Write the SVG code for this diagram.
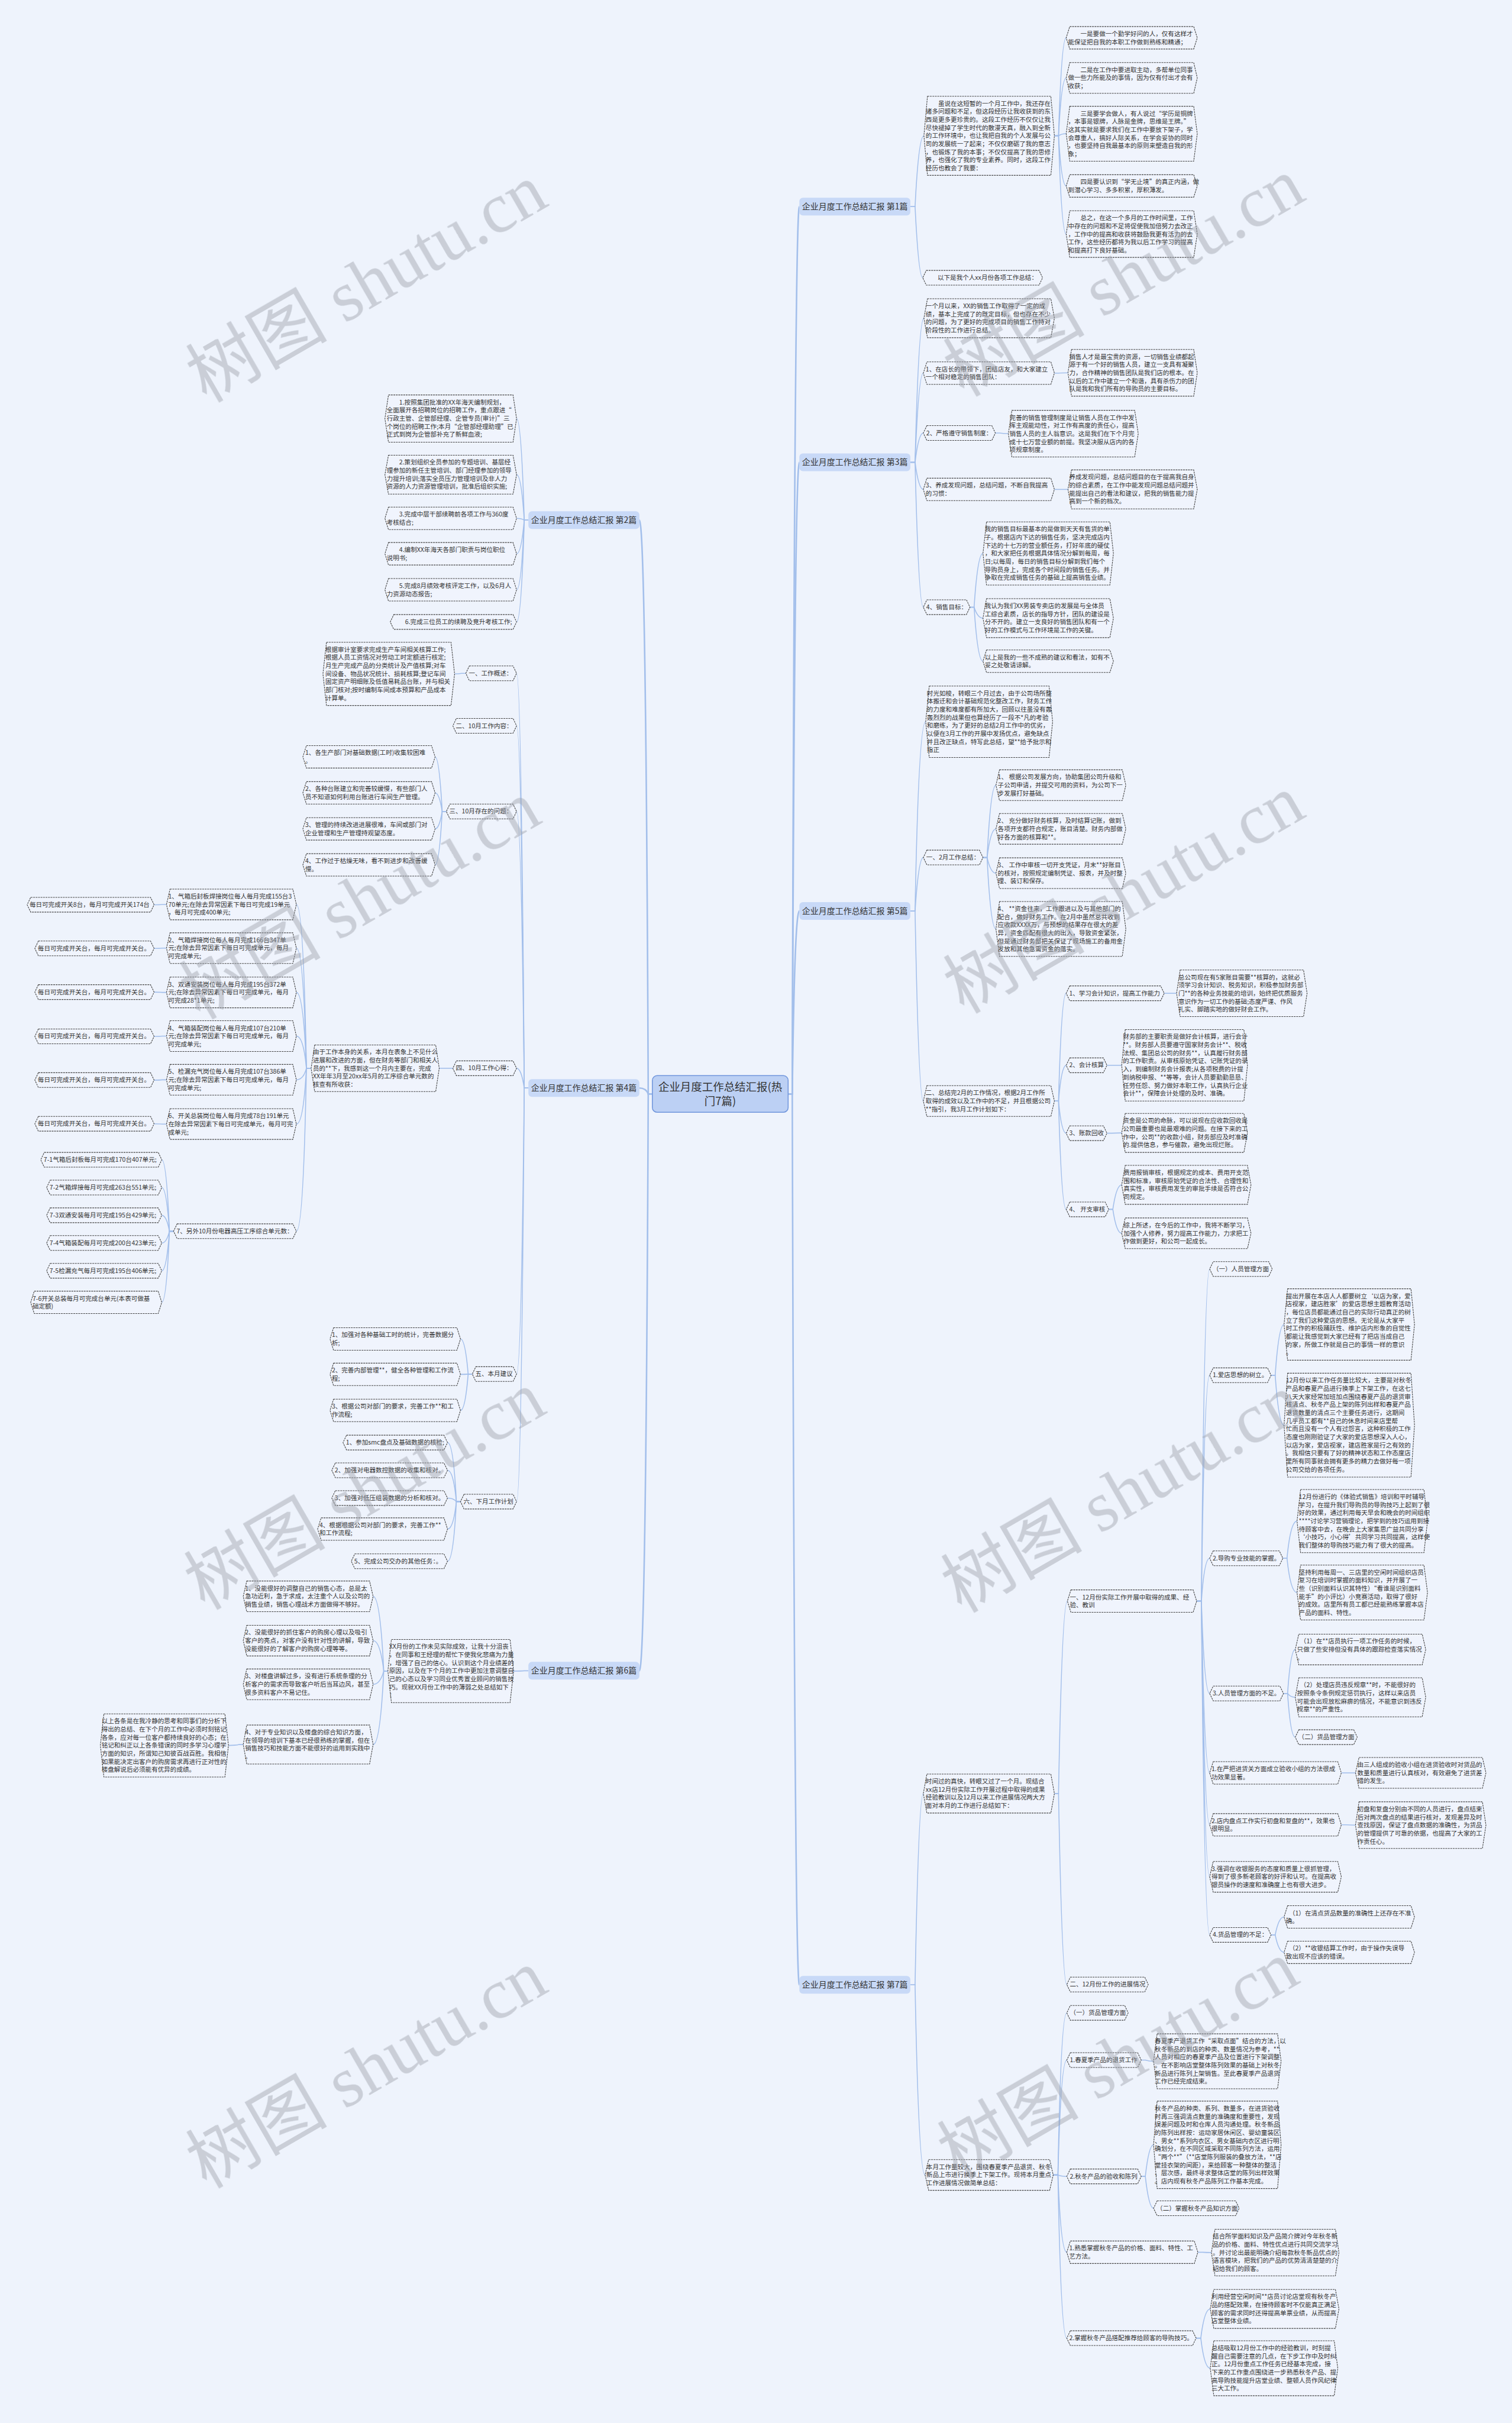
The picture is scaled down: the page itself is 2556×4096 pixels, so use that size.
<svg xmlns="http://www.w3.org/2000/svg" width="2556" height="4096" viewBox="0 0 2556 4096">
<style>
.b{fill:#f0f4fd;stroke:#444;stroke-width:1.1;stroke-dasharray:3 1.2}
.t{font-family:"Noto Sans CJK SC","Microsoft YaHei",sans-serif;font-size:10.6px;fill:#333}
.n{fill:#c8d9f7}
.nt{font-family:"Noto Sans CJK SC",sans-serif;font-size:14px;fill:#333;text-anchor:middle}
.c{fill:none;stroke:#a3bfeb;stroke-width:1.6}
.m{stroke-width:2.6}
.w{font-family:"Liberation Serif","Noto Sans CJK SC",serif;font-size:120px;fill:#9ca1ab;opacity:.45}
</style>
<rect width="2556" height="4096" fill="#eef3fc"/>
<g transform="scale(0.998)">
<g id="connectors" class="c">
<path class="m" d="M1335 1853H1342Q1346 350 1354 350"/>
<path class="m" d="M1335 1853H1342Q1346 783 1354 783"/>
<path class="m" d="M1335 1853H1342Q1346 1543 1354 1543"/>
<path class="m" d="M1335 1853H1342Q1346 3362 1354 3362"/>
<path class="m" d="M1105 1853H1098Q1094 881 1083 881"/>
<path class="m" d="M1105 1853H1098Q1094 1843 1083 1843"/>
<path class="m" d="M1105 1853H1098Q1094 2830 1083 2830"/>
<path d="M1542 350H1550Q1556 230 1565 230"/>
<path d="M1542 350H1550Q1556 470.5 1563 470.5"/>
<path d="M1786 230H1793Q1798 64 1806 64"/>
<path d="M1786 230H1793Q1798 132 1806 132"/>
<path d="M1786 230H1793Q1798 226.5 1806 226.5"/>
<path d="M1786 230H1793Q1798 315 1806 315"/>
<path d="M1786 230H1793Q1798 396.5 1806 396.5"/>
<path d="M1542 783H1550Q1556 539 1565 539"/>
<path d="M1542 783H1550Q1556 632 1564 632"/>
<path d="M1542 783H1550Q1556 733.5 1564 733.5"/>
<path d="M1542 783H1550Q1556 829 1564 829"/>
<path d="M1542 783H1550Q1556 1028.5 1564 1028.5"/>
<path d="M1786 632H1793Q1799 631.5 1809 631.5"/>
<path d="M1686 733.5H1693Q1699 734.5 1708 734.5"/>
<path d="M1786 829H1793Q1799 829 1809 829"/>
<path d="M1643 1028.5H1650Q1656 937.5 1665 937.5"/>
<path d="M1643 1028.5H1650Q1656 1047 1665 1047"/>
<path d="M1643 1028.5H1650Q1656 1120 1665 1120"/>
<path d="M1542 1543H1550Q1556 1222.5 1568 1222.5"/>
<path d="M1542 1543H1550Q1556 1452.5 1564 1452.5"/>
<path d="M1542 1543H1550Q1556 1865 1564 1865"/>
<path d="M1665 1452.5H1672Q1678 1330 1687 1330"/>
<path d="M1665 1452.5H1672Q1678 1404 1687 1404"/>
<path d="M1665 1452.5H1672Q1678 1479 1687 1479"/>
<path d="M1665 1452.5H1672Q1678 1573.5 1687 1573.5"/>
<path d="M1786 1865H1793Q1798 1682.5 1806 1682.5"/>
<path d="M1786 1865H1793Q1798 1804.5 1806 1804.5"/>
<path d="M1786 1865H1793Q1798 1919.5 1806 1919.5"/>
<path d="M1786 1865H1793Q1798 2048.5 1806 2048.5"/>
<path d="M1972 1682.5H1979Q1985 1682.5 1993 1682.5"/>
<path d="M1875 1804.5H1883Q1890 1804.5 1900 1804.5"/>
<path d="M1875 1919.5H1883Q1890 1919 1900 1919"/>
<path d="M1878 2048.5H1885Q1891 2007 1900 2007"/>
<path d="M1878 2048.5H1885Q1891 2089 1900 2089"/>
<path d="M1542 3362H1550Q1556 3038 1564 3038"/>
<path d="M1542 3362H1550Q1556 3684 1567 3684"/>
<path d="M1786 3038H1793Q1799 2712 1808 2712"/>
<path d="M1786 3038H1793Q1799 3361.5 1807 3361.5"/>
<path d="M2027 2712H2035Q2040 2149.5 2049 2149.5"/>
<path d="M2027 2712H2035Q2040 2329.5 2049 2329.5"/>
<path d="M2027 2712H2035Q2040 2639.5 2049 2639.5"/>
<path d="M2027 2712H2035Q2040 2868.5 2049 2868.5"/>
<path d="M2027 2712H2035Q2040 3003 2049 3003"/>
<path d="M2027 2712H2035Q2040 3091 2049 3091"/>
<path d="M2027 2712H2035Q2040 3179 2049 3179"/>
<path d="M2027 2712H2035Q2040 3277.5 2049 3277.5"/>
<path d="M2153 2329.5H2160Q2166 2243.5 2175 2243.5"/>
<path d="M2153 2329.5H2160Q2166 2414 2175 2414"/>
<path d="M2173 2639.5H2180Q2186 2576.5 2197 2576.5"/>
<path d="M2173 2639.5H2180Q2186 2697.5 2197 2697.5"/>
<path d="M2174 2868.5H2181Q2186 2794 2194 2794"/>
<path d="M2174 2868.5H2181Q2186 2875 2194 2875"/>
<path d="M2174 2868.5H2181Q2186 2942.5 2194 2942.5"/>
<path d="M2272 3003H2280Q2286 3003 2296 3003"/>
<path d="M2272 3091H2280Q2286 3091.5 2296 3091.5"/>
<path d="M2153 3277.5H2160Q2166 3247 2175 3247"/>
<path d="M2153 3277.5H2160Q2166 3307 2175 3307"/>
<path d="M1784 3684H1792Q1797 3409.5 1807 3409.5"/>
<path d="M1784 3684H1792Q1797 3489.5 1807 3489.5"/>
<path d="M1784 3684H1792Q1797 3686.5 1807 3686.5"/>
<path d="M1784 3684H1792Q1797 3815 1807 3815"/>
<path d="M1784 3684H1792Q1797 3960.5 1807 3960.5"/>
<path d="M1933 3489.5H1940Q1946 3491.5 1954 3491.5"/>
<path d="M1933 3686.5H1940Q1946 3633 1954 3633"/>
<path d="M1933 3686.5H1940Q1946 3740.5 1954 3740.5"/>
<path d="M2029 3815H2037Q2043 3815.5 2052 3815.5"/>
<path d="M2026 3960.5H2034Q2040 3911 2050 3911"/>
<path d="M2026 3960.5H2034Q2040 4011.5 2050 4011.5"/>
<path d="M895 881H888Q883 709 875 709"/>
<path d="M895 881H888Q883 804 875 804"/>
<path d="M895 881H888Q883 878 875 878"/>
<path d="M895 881H888Q883 938 875 938"/>
<path d="M895 881H888Q883 999 875 999"/>
<path d="M895 881H888Q883 1053.5 875 1053.5"/>
<path d="M895 1843H888Q883 1140.5 875 1140.5"/>
<path d="M895 1843H888Q883 1229.5 875 1229.5"/>
<path d="M895 1843H888Q883 1374.5 875 1374.5"/>
<path d="M895 1843H888Q883 1809.5 875 1809.5"/>
<path d="M895 1843H888Q883 2327.5 875 2327.5"/>
<path d="M895 1843H888Q883 2543.5 875 2543.5"/>
<path d="M789 1140.5H782Q777 1141.5 770 1141.5"/>
<path d="M756 1374.5H749Q744 1282 737 1282"/>
<path d="M756 1374.5H749Q744 1343 737 1343"/>
<path d="M756 1374.5H749Q744 1404 737 1404"/>
<path d="M756 1374.5H749Q744 1465 737 1465"/>
<path d="M767 1809.5H760Q754 1809.5 744 1809.5"/>
<path d="M527 1809.5H519Q514 1532 502 1532"/>
<path d="M527 1809.5H519Q514 1606 502 1606"/>
<path d="M527 1809.5H519Q514 1681 502 1681"/>
<path d="M527 1809.5H519Q514 1755 502 1755"/>
<path d="M527 1809.5H519Q514 1829 502 1829"/>
<path d="M527 1809.5H519Q514 1904 502 1904"/>
<path d="M527 1809.5H519Q514 2085.5 502 2085.5"/>
<path d="M282 1532H275Q270 1532.5 261 1532.5"/>
<path d="M282 1606H275Q270 1606.5 261 1606.5"/>
<path d="M282 1681H275Q270 1680.5 261 1680.5"/>
<path d="M282 1755H275Q270 1755.5 261 1755.5"/>
<path d="M282 1829H275Q270 1829.5 261 1829.5"/>
<path d="M282 1904H275Q270 1903.5 261 1903.5"/>
<path d="M294 2085.5H287Q282 1964.5 274 1964.5"/>
<path d="M294 2085.5H287Q282 2011.5 274 2011.5"/>
<path d="M294 2085.5H287Q282 2058.5 274 2058.5"/>
<path d="M294 2085.5H287Q282 2105.5 274 2105.5"/>
<path d="M294 2085.5H287Q282 2152.5 274 2152.5"/>
<path d="M294 2085.5H287Q282 2206 274 2206"/>
<path d="M800 2327.5H793Q788 2268 780 2268"/>
<path d="M800 2327.5H793Q788 2328 780 2328"/>
<path d="M800 2327.5H793Q788 2389 780 2389"/>
<path d="M780 2543.5H773Q768 2443.5 758 2443.5"/>
<path d="M780 2543.5H773Q768 2490.5 758 2490.5"/>
<path d="M780 2543.5H773Q768 2537.5 758 2537.5"/>
<path d="M780 2543.5H773Q768 2590 758 2590"/>
<path d="M780 2543.5H773Q768 2644.5 758 2644.5"/>
<path d="M895 2830H888Q883 2830.5 870 2830.5"/>
<path d="M657 2830.5H650Q644 2704 632 2704"/>
<path d="M657 2830.5H650Q644 2779 632 2779"/>
<path d="M657 2830.5H650Q644 2853 632 2853"/>
<path d="M657 2830.5H650Q644 2955 632 2955"/>
<path d="M412 2955H405Q400 2956.5 387 2956.5"/>
</g>

<g id="center"><rect x="1105" y="1822" width="230" height="62" rx="8" fill="#bcd0f4" stroke="#6f95dc" stroke-width="1.5"/><text class="nt" style="font-size:18.5px" x="1220" y="1848">企业月度工作总结汇报(热<tspan x="1220" dy="24">门7篇)</tspan></text></g>

<g id="n1"><rect class="n" x="1354" y="335" width="188" height="30" rx="6"/><text class="nt" x="1448" y="355">企业月度工作总结汇报 第1篇</text></g>
<g id="n3"><rect class="n" x="1354" y="768" width="188" height="30" rx="6"/><text class="nt" x="1448" y="788">企业月度工作总结汇报 第3篇</text></g>
<g id="n5"><rect class="n" x="1354" y="1528" width="188" height="30" rx="6"/><text class="nt" x="1448" y="1548">企业月度工作总结汇报 第5篇</text></g>
<g id="n7"><rect class="n" x="1354" y="3347" width="188" height="30" rx="6"/><text class="nt" x="1448" y="3367">企业月度工作总结汇报 第7篇</text></g>
<g id="n2"><rect class="n" x="895" y="866" width="188" height="30" rx="6"/><text class="nt" x="989" y="886">企业月度工作总结汇报 第2篇</text></g>
<g id="n4"><rect class="n" x="895" y="1828" width="188" height="30" rx="6"/><text class="nt" x="989" y="1848">企业月度工作总结汇报 第4篇</text></g>
<g id="n6"><rect class="n" x="895" y="2815" width="188" height="30" rx="6"/><text class="nt" x="989" y="2835">企业月度工作总结汇报 第6篇</text></g>

<g id="b1"><polygon class="b" points="1571,163 1780,163 1786,230 1780,297 1571,297 1565,230"/><text class="t" x="1568" y="179">　　虽说在这短暂的一个月工作中，我还存在<tspan x="1568" dy="13.7">诸多问题和不足，但这段经历让我收获到的东</tspan><tspan x="1568" dy="13.7">西是更多更珍贵的。这段工作经历不仅仅让我</tspan><tspan x="1568" dy="13.7">尽快褪掉了学生时代的散漫天真，融入到全新</tspan><tspan x="1568" dy="13.7">的工作环境中，也让我把自我的个人发展与公</tspan><tspan x="1568" dy="13.7">司的发展统一了起来；不仅仅磨砺了我的意志</tspan><tspan x="1568" dy="13.7">，也锻炼了我的本事；不仅仅提高了我的思修</tspan><tspan x="1568" dy="13.7">养，也强化了我的专业素养。同时，这段工作</tspan><tspan x="1568" dy="13.7">经历也教会了我要：</tspan></text></g>
<g id="b2"><polygon class="b" points="1569,458 1760,458 1766,470.5 1760,483 1569,483 1563,470.5"/><text class="t" x="1567" y="474">　　以下是我个人xx月份各项工作总结：</text></g>
<g id="b3"><polygon class="b" points="1812,45 2022,45 2028,64 2022,83 1812,83 1806,64"/><text class="t" x="1809" y="61">　　一是要做一个勤学好问的人，仅有这样才<tspan x="1809" dy="13.7">能保证把自我的本职工作做到熟练和精通；</tspan></text></g>
<g id="b4"><polygon class="b" points="1812,106 2022,106 2028,132 2022,158 1812,158 1806,132"/><text class="t" x="1809" y="122">　　二是在工作中要进取主动，多帮单位同事<tspan x="1809" dy="13.7">做一些力所能及的事情，因为仅有付出才会有</tspan><tspan x="1809" dy="13.7">收获；</tspan></text></g>
<g id="b5"><polygon class="b" points="1812,180 2022,180 2028,226.5 2022,273 1812,273 1806,226.5"/><text class="t" x="1809" y="196">　　三是要学会做人，有人说过“学历是铜牌<tspan x="1809" dy="13.7">，本事是银牌，人脉是金牌，思维是王牌。”</tspan><tspan x="1809" dy="13.7">这其实就是要求我们在工作中要放下架子，学</tspan><tspan x="1809" dy="13.7">会尊重人，搞好人际关系，在学会妥协的同时</tspan><tspan x="1809" dy="13.7">，也要坚持自我最基本的原则来塑造自我的形</tspan><tspan x="1809" dy="13.7">象；</tspan></text></g>
<g id="b6"><polygon class="b" points="1812,296 2022,296 2028,315 2022,334 1812,334 1806,315"/><text class="t" x="1809" y="312">　　四是要认识到“学无止境”的真正内涵，做<tspan x="1809" dy="13.7">到潜心学习、多多积累，厚积薄发。</tspan></text></g>
<g id="b7"><polygon class="b" points="1812,357 2022,357 2028,396.5 2022,436 1812,436 1806,396.5"/><text class="t" x="1809" y="373">　　总之，在这一个多月的工作时间里，工作<tspan x="1809" dy="13.7">中存在的问题和不足将促使我加倍努力去改正</tspan><tspan x="1809" dy="13.7">，工作中的提高和收获将鼓励我更有活力的去</tspan><tspan x="1809" dy="13.7">工作，这些经历都将为我以后工作学习的提高</tspan><tspan x="1809" dy="13.7">和提高打下良好基础。</tspan></text></g>

<g id="b8"><polygon class="b" points="1571,506 1780,506 1786,539 1780,572 1571,572 1565,539"/><text class="t" x="1568" y="522">一个月以来，XX的销售工作取得了一定的成<tspan x="1568" dy="13.7">绩，基本上完成了的既定目标，但也存在不少</tspan><tspan x="1568" dy="13.7">的问题，为了更好的完成项目的销售工作特对</tspan><tspan x="1568" dy="13.7">阶段性的工作进行总结。</tspan></text></g>
<g id="b9"><polygon class="b" points="1570,613 1780,613 1786,632 1780,651 1570,651 1564,632"/><text class="t" x="1568" y="629">1、在店长的带领下，团结店友，和大家建立<tspan x="1568" dy="13.7">一个相对稳定的销售团队：</tspan></text></g>
<g id="b10"><polygon class="b" points="1815,592 2022,592 2028,631.5 2022,671 1815,671 1809,631.5"/><text class="t" x="1811" y="608">销售人才是最宝贵的资源，一切销售业绩都起<tspan x="1811" dy="13.7">源于有一个好的销售人员，建立一支具有凝聚</tspan><tspan x="1811" dy="13.7">力，合作精神的销售团队是我们店的根本。在</tspan><tspan x="1811" dy="13.7">以后的工作中建立一个和谐，具有杀伤力的团</tspan><tspan x="1811" dy="13.7">队是我和我们所有的导购员的主要目标。</tspan></text></g>
<g id="b11"><polygon class="b" points="1570,721 1680,721 1686,733.5 1680,746 1570,746 1564,733.5"/><text class="t" x="1569" y="737">2、严格遵守销售制度：</text></g>
<g id="b12"><polygon class="b" points="1714,695 1922,695 1928,734.5 1922,774 1714,774 1708,734.5"/><text class="t" x="1710" y="711">完善的销售管理制度是让销售人员在工作中发<tspan x="1710" dy="13.7">挥主观能动性，对工作有高度的责任心，提高</tspan><tspan x="1710" dy="13.7">销售人员的主人翁意识。这是我们在下个月完</tspan><tspan x="1710" dy="13.7">成十七万营业额的前提。我坚决服从店内的各</tspan><tspan x="1710" dy="13.7">项规章制度。</tspan></text></g>
<g id="b13"><polygon class="b" points="1570,810 1780,810 1786,829 1780,848 1570,848 1564,829"/><text class="t" x="1568" y="826">3、养成发现问题，总结问题，不断自我提高<tspan x="1568" dy="13.7">的习惯：</tspan></text></g>
<g id="b14"><polygon class="b" points="1815,796 2022,796 2028,829 2022,862 1815,862 1809,829"/><text class="t" x="1811" y="812">养成发现问题，总结问题目的在于提高我自身<tspan x="1811" dy="13.7">的综合素质，在工作中能发现问题总结问题并</tspan><tspan x="1811" dy="13.7">能提出自己的看法和建议，把我的销售能力提</tspan><tspan x="1811" dy="13.7">高到一个新的档次。</tspan></text></g>
<g id="b15"><polygon class="b" points="1570,1016 1637,1016 1643,1028.5 1637,1041 1570,1041 1564,1028.5"/><text class="t" x="1569" y="1032">4、销售目标：</text></g>
<g id="b16"><polygon class="b" points="1671,884 1880,884 1886,937.5 1880,991 1671,991 1665,937.5"/><text class="t" x="1668" y="900">我的销售目标最基本的是做到天天有售货的单<tspan x="1668" dy="13.7">子。根据店内下达的销售任务，坚决完成店内</tspan><tspan x="1668" dy="13.7">下达的十七万的营业额任务，打好年底的硬仗</tspan><tspan x="1668" dy="13.7">，和大家把任务根据具体情况分解到每周，每</tspan><tspan x="1668" dy="13.7">日;以每周，每日的销售目标分解到我们每个</tspan><tspan x="1668" dy="13.7">导购员身上，完成各个时间段的销售任务。并</tspan><tspan x="1668" dy="13.7">争取在完成销售任务的基础上提高销售业绩。</tspan></text></g>
<g id="b17"><polygon class="b" points="1671,1014 1880,1014 1886,1047 1880,1080 1671,1080 1665,1047"/><text class="t" x="1668" y="1030">我认为我们XX男装专卖店的发展是与全体员<tspan x="1668" dy="13.7">工综合素质，店长的指导方针，团队的建设是</tspan><tspan x="1668" dy="13.7">分不开的。建立一支良好的销售团队和有一个</tspan><tspan x="1668" dy="13.7">好的工作模式与工作环境是工作的关键。</tspan></text></g>
<g id="b18"><polygon class="b" points="1671,1101 1880,1101 1886,1120 1880,1139 1671,1139 1665,1120"/><text class="t" x="1668" y="1117">以上是我的一些不成熟的建议和看法，如有不<tspan x="1668" dy="13.7">妥之处敬请谅解。</tspan></text></g>

<g id="b19"><polygon class="b" points="1574,1162 1777,1162 1783,1222.5 1777,1283 1574,1283 1568,1222.5"/><text class="t" x="1570" y="1178">时光如梭，转眼三个月过去，由于公司场所整<tspan x="1570" dy="13.7">体搬迁和会计基础规范化整改工作，财务工作</tspan><tspan x="1570" dy="13.7">的力度和难度都有所加大，回顾以往虽没有轰</tspan><tspan x="1570" dy="13.7">轰烈烈的战果但也算经历了一段不*凡的考验</tspan><tspan x="1570" dy="13.7">和磨练，为了更好的总结2月工作中的优劣，</tspan><tspan x="1570" dy="13.7">以便在3月工作的开展中发扬优点，避免缺点</tspan><tspan x="1570" dy="13.7">并且改正缺点，特写此总结，望**给予批示和</tspan><tspan x="1570" dy="13.7">指正</tspan></text></g>
<g id="b20"><polygon class="b" points="1570,1440 1659,1440 1665,1452.5 1659,1465 1570,1465 1564,1452.5"/><text class="t" x="1569" y="1456">一、2月工作总结：</text></g>
<g id="b21"><polygon class="b" points="1693,1304 1901,1304 1907,1330 1901,1356 1693,1356 1687,1330"/><text class="t" x="1690" y="1320">1、 根据公司发展方向，协助集团公司升级和<tspan x="1690" dy="13.7">子公司申请，并提交可用的资料，为公司下一</tspan><tspan x="1690" dy="13.7">步发展打好基础。</tspan></text></g>
<g id="b22"><polygon class="b" points="1693,1378 1901,1378 1907,1404 1901,1430 1693,1430 1687,1404"/><text class="t" x="1690" y="1394">2、 充分做好财务核算，及时结算记账，做到<tspan x="1690" dy="13.7">各项开支都符合规定，账目清楚。财务内部做</tspan><tspan x="1690" dy="13.7">好各方面的核算和**。</tspan></text></g>
<g id="b23"><polygon class="b" points="1693,1453 1901,1453 1907,1479 1901,1505 1693,1505 1687,1479"/><text class="t" x="1690" y="1469">3、 工作中审核一切开支凭证，月末**好账目<tspan x="1690" dy="13.7">的核对，按照规定编制凭证、报表，并及时整</tspan><tspan x="1690" dy="13.7">理、装订和保存。</tspan></text></g>
<g id="b24"><polygon class="b" points="1693,1527 1901,1527 1907,1573.5 1901,1620 1693,1620 1687,1573.5"/><text class="t" x="1690" y="1543">4、 **资金往来，工作跟进以及与其他部门的<tspan x="1690" dy="13.7">配合，做好财务工作。在2月中虽然总共收到</tspan><tspan x="1690" dy="13.7">应收款XXXX万，与预想的结果存在很大的差</tspan><tspan x="1690" dy="13.7">异，资金匹配有很大的出入，导致资金紧张，</tspan><tspan x="1690" dy="13.7">但是通过财务部把关保证了现场施工的备用金</tspan><tspan x="1690" dy="13.7">发放和其他急需资金的落实。</tspan></text></g>
<g id="b25"><polygon class="b" points="1570,1839 1780,1839 1786,1865 1780,1891 1570,1891 1564,1865"/><text class="t" x="1568" y="1855">二、总结完2月的工作情况，根据2月工作所<tspan x="1568" dy="13.7">取得的成效以及工作中的不足，并且根据公司</tspan><tspan x="1568" dy="13.7">**指引，我3月工作计划如下：</tspan></text></g>
<g id="b26"><polygon class="b" points="1812,1670 1966,1670 1972,1682.5 1966,1695 1812,1695 1806,1682.5"/><text class="t" x="1811" y="1686">1、学习会计知识，提高工作能力</text></g>
<g id="b27"><polygon class="b" points="1999,1643 2208,1643 2214,1682.5 2208,1722 1999,1722 1993,1682.5"/><text class="t" x="1996" y="1659">总公司现在有5家账目需要**核算的，这就必<tspan x="1996" dy="13.7">须学习会计知识、税务知识，积极参加财务部</tspan><tspan x="1996" dy="13.7">门**的各种业务技能的培训，始终把优质服务</tspan><tspan x="1996" dy="13.7">意识作为一切工作的基础;态度严谨、作风</tspan><tspan x="1996" dy="13.7">扎实、脚踏实地的做好财会工作。</tspan></text></g>
<g id="b28"><polygon class="b" points="1812,1792 1869,1792 1875,1804.5 1869,1817 1812,1817 1806,1804.5"/><text class="t" x="1811" y="1808">2、会计核算</text></g>
<g id="b29"><polygon class="b" points="1906,1744 2107,1744 2113,1804.5 2107,1865 1906,1865 1900,1804.5"/><text class="t" x="1902" y="1760">财务部的主要职责是做好会计核算，进行会计<tspan x="1902" dy="13.7">**。财务部人员要遵守国家财务会计**、税收</tspan><tspan x="1902" dy="13.7">法规、集团总公司的财务**，认真履行财务部</tspan><tspan x="1902" dy="13.7">的工作职责。从审核原始凭证、记账凭证的录</tspan><tspan x="1902" dy="13.7">入，到编制财务会计报表;从各项税费的计提</tspan><tspan x="1902" dy="13.7">到纳税申报、**等等，会计人员要勤勤恳恳、</tspan><tspan x="1902" dy="13.7">任劳任怨、努力做好本职工作，认真执行企业</tspan><tspan x="1902" dy="13.7">会计**，保障会计处理的及时、准确。</tspan></text></g>
<g id="b30"><polygon class="b" points="1812,1907 1869,1907 1875,1919.5 1869,1932 1812,1932 1806,1919.5"/><text class="t" x="1811" y="1923">3、账款回收</text></g>
<g id="b31"><polygon class="b" points="1906,1886 2107,1886 2113,1919 2107,1952 1906,1952 1900,1919"/><text class="t" x="1902" y="1902">资金是公司的命脉，可以说现在应收款回收是<tspan x="1902" dy="13.7">公司最重要也是最艰难的问题。在接下来的工</tspan><tspan x="1902" dy="13.7">作中，公司**的收款小组，财务部应及时准确</tspan><tspan x="1902" dy="13.7">的.提供信息，参与催款，避免出现烂账。</tspan></text></g>
<g id="b32"><polygon class="b" points="1812,2036 1872,2036 1878,2048.5 1872,2061 1812,2061 1806,2048.5"/><text class="t" x="1811" y="2052">4、 开支审核</text></g>
<g id="b33"><polygon class="b" points="1906,1974 2113,1974 2119,2007 2113,2040 1906,2040 1900,2007"/><text class="t" x="1903" y="1990">费用报销审核，根据规定的成本、费用开支范<tspan x="1903" dy="13.7">围和标准，审核原始凭证的合法性、合理性和</tspan><tspan x="1903" dy="13.7">真实性，审核费用发生的审批手续是否符合公</tspan><tspan x="1903" dy="13.7">司规定。</tspan></text></g>
<g id="b34"><polygon class="b" points="1906,2063 2113,2063 2119,2089 2113,2115 1906,2115 1900,2089"/><text class="t" x="1903" y="2079">综上所述，在今后的工作中，我将不断学习，<tspan x="1903" dy="13.7">加强个人修养，努力提高工作能力，力求把工</tspan><tspan x="1903" dy="13.7">作做到更好，和公司一起成长。</tspan></text></g>

<g id="b35"><polygon class="b" points="1570,3005 1780,3005 1786,3038 1780,3071 1570,3071 1564,3038"/><text class="t" x="1568" y="3021">时间过的真快，转眼又过了一个月。现结合<tspan x="1568" dy="13.7">xx店12月份实际工作开展过程中取得的成果</tspan><tspan x="1568" dy="13.7">经验教训以及12月以来工作进展情况两大方</tspan><tspan x="1568" dy="13.7">面对本月的工作进行总结如下：</tspan></text></g>
<g id="b36"><polygon class="b" points="1814,2693 2021,2693 2027,2712 2021,2731 1814,2731 1808,2712"/><text class="t" x="1812" y="2709">一、12月份实际工作开展中取得的成果、经<tspan x="1812" dy="13.7">验、教训</tspan></text></g>
<g id="b37"><polygon class="b" points="2055,2137 2149,2137 2155,2149.5 2149,2162 2055,2162 2049,2149.5"/><text class="t" x="2054" y="2153">（一）人员管理方面</text></g>
<g id="b38"><polygon class="b" points="2055,2317 2147,2317 2153,2329.5 2147,2342 2055,2342 2049,2329.5"/><text class="t" x="2054" y="2333">1.爱店思想的树立。</text></g>
<g id="b39"><polygon class="b" points="2181,2183 2390,2183 2396,2243.5 2390,2304 2181,2304 2175,2243.5"/><text class="t" x="2178" y="2199">提出开展在本店人人都要树立‘以店为家，爱<tspan x="2178" dy="13.7">店视家，建店胜家’的爱店思想主题教育活动</tspan><tspan x="2178" dy="13.7">，每位店员都能通过自己的实际行动真正的树</tspan><tspan x="2178" dy="13.7">立了我们这种爱店的思想。无论是从大家平</tspan><tspan x="2178" dy="13.7">时工作的积极踊跃性、维护店内形象的自觉性</tspan><tspan x="2178" dy="13.7">都能让我感觉到大家已经有了把店当成自己</tspan><tspan x="2178" dy="13.7">的家，所做工作就是自己的事情一样的意识</tspan><tspan x="2178" dy="13.7">。</tspan></text></g>
<g id="b40"><polygon class="b" points="2181,2326 2390,2326 2396,2414 2390,2502 2181,2502 2175,2414"/><text class="t" x="2178" y="2342">12月份以来工作任务量比较大，主要是对秋冬<tspan x="2178" dy="13.7">产品和春夏产品进行换季上下架工作，在这七</tspan><tspan x="2178" dy="13.7">八天大家经常加班加点围绕春夏产品的退货审</tspan><tspan x="2178" dy="13.7">核清点、秋冬产品上架的陈列出样和春夏产品</tspan><tspan x="2178" dy="13.7">退货数量的清点三个主要任务进行，这期间</tspan><tspan x="2178" dy="13.7">几乎员工都有**自己的休息时间来店里帮</tspan><tspan x="2178" dy="13.7">忙而且没有一个人有过怨言，这种积极的工作</tspan><tspan x="2178" dy="13.7">态度也刚刚验证了大家的爱店思想深入人心，</tspan><tspan x="2178" dy="13.7">以店为家，爱店视家，建店胜家是行之有效的</tspan><tspan x="2178" dy="13.7">。我相信只要有了好的精神状态和工作态度店</tspan><tspan x="2178" dy="13.7">里所有同事就会拥有更多的精力去做好每一项</tspan><tspan x="2178" dy="13.7">公司交给的各项任务。</tspan></text></g>
<g id="b41"><polygon class="b" points="2055,2627 2167,2627 2173,2639.5 2167,2652 2055,2652 2049,2639.5"/><text class="t" x="2054" y="2643">2.导购专业技能的掌握。</text></g>
<g id="b42"><polygon class="b" points="2203,2523 2412,2523 2418,2576.5 2412,2630 2203,2630 2197,2576.5"/><text class="t" x="2200" y="2539">12月份进行的《体验式销售》培训和平时辅导<tspan x="2200" dy="13.7">学习，在提升我们导购员的导购技巧上起到了很</tspan><tspan x="2200" dy="13.7">好的效果，通过利用每天早会和晚会的时间组织</tspan><tspan x="2200" dy="13.7">****讨论学习营销理论，把学到的技巧运用到接</tspan><tspan x="2200" dy="13.7">待顾客中去，在晚会上大家集思广益共同分享</tspan><tspan x="2200" dy="13.7">‘小技巧，小心得’共同学习共同提高，这样使</tspan><tspan x="2200" dy="13.7">我们整体的导购技巧能力有了很大的提高。</tspan></text></g>
<g id="b43"><polygon class="b" points="2203,2651 2412,2651 2418,2697.5 2412,2744 2203,2744 2197,2697.5"/><text class="t" x="2200" y="2667">坚持利用每周一、三店里的空闲时间组织店员<tspan x="2200" dy="13.7">复习在培训时掌握的面料知识，并开展了一</tspan><tspan x="2200" dy="13.7">些（识别面料认识其特性）“看谁是识别面料</tspan><tspan x="2200" dy="13.7">能手”的小评比）小竞赛活动，取得了很好</tspan><tspan x="2200" dy="13.7">的成效。店里所有员工都已经能熟练掌握本店</tspan><tspan x="2200" dy="13.7">产品的面料、特性。</tspan></text></g>
<g id="b44"><polygon class="b" points="2055,2856 2168,2856 2174,2868.5 2168,2881 2055,2881 2049,2868.5"/><text class="t" x="2054" y="2872">3.人员管理方面的不足。</text></g>
<g id="b45"><polygon class="b" points="2200,2768 2409,2768 2415,2794 2409,2820 2200,2820 2194,2794"/><text class="t" x="2197" y="2784">　（1）在**店员执行一项工作任务的时候，<tspan x="2197" dy="13.7">只做了些安排但没有具体的跟踪检查落实情况</tspan><tspan x="2197" dy="13.7">。</tspan></text></g>
<g id="b46"><polygon class="b" points="2200,2842 2409,2842 2415,2875 2409,2908 2200,2908 2194,2875"/><text class="t" x="2197" y="2858">　（2）处理店员违反规章**时，不能很好的<tspan x="2197" dy="13.7">按照条令条例规定惩罚执行，这样以来店员</tspan><tspan x="2197" dy="13.7">可能会出现放松麻痹的情况，不能意识到违反</tspan><tspan x="2197" dy="13.7">规章**的严重性。</tspan></text></g>
<g id="b47"><polygon class="b" points="2200,2930 2293,2930 2299,2942.5 2293,2955 2200,2955 2194,2942.5"/><text class="t" x="2199" y="2946">（二）货品管理方面</text></g>
<g id="b48"><polygon class="b" points="2055,2984 2266,2984 2272,3003 2266,3022 2055,3022 2049,3003"/><text class="t" x="2052" y="3000">1.在严把进货关方面成立验收小组的方法很成<tspan x="2052" dy="13.7">功效果显著。</tspan></text></g>
<g id="b49"><polygon class="b" points="2302,2977 2511,2977 2517,3003 2511,3029 2302,3029 2296,3003"/><text class="t" x="2299" y="2993">由三人组成的验收小组在进货验收时对货品的<tspan x="2299" dy="13.7">数量和质量进行认真核对，有效避免了进货差</tspan><tspan x="2299" dy="13.7">错的发生。</tspan></text></g>
<g id="b50"><polygon class="b" points="2055,3072 2266,3072 2272,3091 2266,3110 2055,3110 2049,3091"/><text class="t" x="2052" y="3088">2.店内盘点工作实行初盘和复盘的**，效果也<tspan x="2052" dy="13.7">很明显。</tspan></text></g>
<g id="b51"><polygon class="b" points="2302,3052 2511,3052 2517,3091.5 2511,3131 2302,3131 2296,3091.5"/><text class="t" x="2299" y="3068">初盘和复盘分别由不同的人员进行，盘点结束<tspan x="2299" dy="13.7">后对两次盘点的结果进行核对，发现差异及时</tspan><tspan x="2299" dy="13.7">查找原因，保证了盘点数据的准确性，为货品</tspan><tspan x="2299" dy="13.7">的管理提供了可靠的依据，也提高了大家的工</tspan><tspan x="2299" dy="13.7">作责任心。</tspan></text></g>
<g id="b52"><polygon class="b" points="2055,3153 2266,3153 2272,3179 2266,3205 2055,3205 2049,3179"/><text class="t" x="2052" y="3169">3.强调在收银服务的态度和质量上很抓管理，<tspan x="2052" dy="13.7">得到了很多新老顾客的好评和认可。在提高收</tspan><tspan x="2052" dy="13.7">银员操作的速度和准确度上也有很大进步。</tspan></text></g>
<g id="b53"><polygon class="b" points="2055,3265 2147,3265 2153,3277.5 2147,3290 2055,3290 2049,3277.5"/><text class="t" x="2054" y="3281">4.货品管理的不足：</text></g>
<g id="b54"><polygon class="b" points="2181,3228 2390,3228 2396,3247 2390,3266 2181,3266 2175,3247"/><text class="t" x="2178" y="3244">　（1）在清点货品数量的准确性上还存在不准<tspan x="2178" dy="13.7">确。</tspan></text></g>
<g id="b55"><polygon class="b" points="2181,3288 2390,3288 2396,3307 2390,3326 2181,3326 2175,3307"/><text class="t" x="2178" y="3304">　（2）**收银结算工作时，由于操作失误导<tspan x="2178" dy="13.7">致出现不应该的错误。</tspan></text></g>
<g id="b56"><polygon class="b" points="1813,3349 1939,3349 1945,3361.5 1939,3374 1813,3374 1807,3361.5"/><text class="t" x="1812" y="3365">二、12月份工作的进展情况</text></g>
<g id="b57"><polygon class="b" points="1573,3658 1778,3658 1784,3684 1778,3710 1573,3710 1567,3684"/><text class="t" x="1569" y="3674">本月工作量较大，围绕春夏季产品退货、秋冬<tspan x="1569" dy="13.7">新品上市进行换季上下架工作。现将本月重点</tspan><tspan x="1569" dy="13.7">工作进展情况做简单总结：</tspan></text></g>
<g id="b58"><polygon class="b" points="1813,3397 1905,3397 1911,3409.5 1905,3422 1813,3422 1807,3409.5"/><text class="t" x="1812" y="3413">（一）货品管理方面</text></g>
<g id="b59"><polygon class="b" points="1813,3477 1927,3477 1933,3489.5 1927,3502 1813,3502 1807,3489.5"/><text class="t" x="1812" y="3493">1.春夏季产品的退货工作</text></g>
<g id="b60"><polygon class="b" points="1960,3445 2164,3445 2170,3491.5 2164,3538 1960,3538 1954,3491.5"/><text class="t" x="1956" y="3461">春夏季产退货工作“采取点面”结合的方法，以<tspan x="1956" dy="13.7">秋冬新品的到店的种类、数量情况为参考，**</tspan><tspan x="1956" dy="13.7">人员对相应的春夏季产品及位置进行下架调整</tspan><tspan x="1956" dy="13.7">。在不影响店堂整体陈列效果的基础上对秋冬</tspan><tspan x="1956" dy="13.7">新品进行陈列上架销售。至此春夏季产品退货</tspan><tspan x="1956" dy="13.7">工作已经完成结束。</tspan></text></g>
<g id="b61"><polygon class="b" points="1813,3674 1927,3674 1933,3686.5 1927,3699 1813,3699 1807,3686.5"/><text class="t" x="1812" y="3690">2.秋冬产品的验收和陈列</text></g>
<g id="b62"><polygon class="b" points="1960,3559 2164,3559 2170,3633 2164,3707 1960,3707 1954,3633"/><text class="t" x="1956" y="3575">秋冬产品的种类、系列、数量多，在进货验收<tspan x="1956" dy="13.7">时再三强调清点数量的准确度和重要性，发现</tspan><tspan x="1956" dy="13.7">误差问题及时和仓库人员沟通处理。秋冬新品</tspan><tspan x="1956" dy="13.7">的陈列出样按：运动家居休闲区、婴幼童装区</tspan><tspan x="1956" dy="13.7">、男女**系列内衣区、男女基础内衣区进行明</tspan><tspan x="1956" dy="13.7">确划分，在不同区域采取不同陈列方法，运用</tspan><tspan x="1956" dy="13.7">“两个**”（**店堂陈列服装的叠放方法，**店</tspan><tspan x="1956" dy="13.7">堂挂衣架的间距），来给顾客一种整体的整洁</tspan><tspan x="1956" dy="13.7">、层次感，最终寻求整体店堂的陈列出样效果</tspan><tspan x="1956" dy="13.7">。店内现有秋冬产品陈列工作基本完成。</tspan></text></g>
<g id="b63"><polygon class="b" points="1960,3728 2093,3728 2099,3740.5 2093,3753 1960,3753 1954,3740.5"/><text class="t" x="1959" y="3744">（二）掌握秋冬产品知识方面</text></g>
<g id="b64"><polygon class="b" points="1813,3796 2023,3796 2029,3815 2023,3834 1813,3834 1807,3815"/><text class="t" x="1811" y="3812">1.熟悉掌握秋冬产品的价格、面料、特性、工<tspan x="1811" dy="13.7">艺方法。</tspan></text></g>
<g id="b65"><polygon class="b" points="2058,3776 2262,3776 2268,3815.5 2262,3855 2058,3855 2052,3815.5"/><text class="t" x="2054" y="3792">结合所学面料知识及产品简介牌对今年秋冬新<tspan x="2054" dy="13.7">品的价格、面料、特性优点进行共同交流学习</tspan><tspan x="2054" dy="13.7">。并讨论出最能明确介绍每款秋冬新品优点的</tspan><tspan x="2054" dy="13.7">语言模块，把我们的产品的优势清清楚楚的介</tspan><tspan x="2054" dy="13.7">绍给我们的顾客。</tspan></text></g>
<g id="b66"><polygon class="b" points="1813,3948 2020,3948 2026,3960.5 2020,3973 1813,3973 1807,3960.5"/><text class="t" x="1811" y="3964">2.掌握秋冬产品搭配推荐给顾客的导购技巧。</text></g>
<g id="b67"><polygon class="b" points="2056,3878 2262,3878 2268,3911 2262,3944 2056,3944 2050,3911"/><text class="t" x="2052" y="3894">利用经营空闲时间**店员讨论店堂现有秋冬产<tspan x="2052" dy="13.7">品的搭配效果，在接待顾客时不仅能真正满足</tspan><tspan x="2052" dy="13.7">顾客的需求同时还得提高单票业绩，从而提高</tspan><tspan x="2052" dy="13.7">店堂整体业绩。</tspan></text></g>
<g id="b68"><polygon class="b" points="2056,3965 2260,3965 2266,4011.5 2260,4058 2056,4058 2050,4011.5"/><text class="t" x="2052" y="3981">总结吸取12月份工作中的经验教训，时刻提<tspan x="2052" dy="13.7">醒自己需要注意的几点，在下步工作中及时纠</tspan><tspan x="2052" dy="13.7">正。12月份重点工作任务已经基本完成，接</tspan><tspan x="2052" dy="13.7">下来的工作重点围绕进一步熟悉秋冬产品、提</tspan><tspan x="2052" dy="13.7">高导购技能提升店堂业绩、整顿人员作风纪律</tspan><tspan x="2052" dy="13.7">三大工作。</tspan></text></g>

<g id="l1"><polygon class="b" points="658,669 869,669 875,709 869,749 658,749 652,709"/><text class="t" x="655" y="685">　　1.按照集团批准的XX年海天编制规划，<tspan x="655" dy="13.7">全面展开各招聘岗位的招聘工作，重点跟进“</tspan><tspan x="655" dy="13.7">行政主管、企管部经理、企管专员(审计)”三</tspan><tspan x="655" dy="13.7">个岗位的招聘工作;本月“企管部经理助理”已</tspan><tspan x="655" dy="13.7">正式到岗为企管部补充了新鲜血液;</tspan></text></g>
<g id="l2"><polygon class="b" points="658,771 869,771 875,804 869,837 658,837 652,804"/><text class="t" x="655" y="787">　　2.策划组织全员参加的专题培训、基层经<tspan x="655" dy="13.7">理参加的新任主管培训、部门经理参加的领导</tspan><tspan x="655" dy="13.7">力提升培训;落实全员压力管理培训及非人力</tspan><tspan x="655" dy="13.7">资源的人力资源管理培训，批准后组织实施;</tspan></text></g>
<g id="l3"><polygon class="b" points="658,859 869,859 875,878 869,897 658,897 652,878"/><text class="t" x="655" y="875">　　3.完成中层干部续聘前各项工作与360度<tspan x="655" dy="13.7">考核结合;</tspan></text></g>
<g id="l4"><polygon class="b" points="658,919 869,919 875,938 869,957 658,957 652,938"/><text class="t" x="655" y="935">　　4.编制XX年海天各部门职责与岗位职位<tspan x="655" dy="13.7">说明书;</tspan></text></g>
<g id="l5"><polygon class="b" points="658,980 869,980 875,999 869,1018 658,1018 652,999"/><text class="t" x="655" y="996">　　5.完成8月绩效考核评定工作，以及6月人<tspan x="655" dy="13.7">力资源动态报告;</tspan></text></g>
<g id="l6"><polygon class="b" points="667,1041 869,1041 875,1053.5 869,1066 667,1066 661,1053.5"/><text class="t" x="665" y="1057">　　6.完成三位员工的续聘及竞升考核工作;</text></g>

<g id="p4a"><polygon class="b" points="795,1128 869,1128 875,1140.5 869,1153 795,1153 789,1140.5"/><text class="t" x="794" y="1144">一、工作概述：</text></g>
<g id="p4a1"><polygon class="b" points="553,1088 764,1088 770,1141.5 764,1195 553,1195 547,1141.5"/><text class="t" x="551" y="1104">根据审计室要求完成生产车间相关核算工作;<tspan x="551" dy="13.7">根据人员工资情况对劳动工时定额进行核定;</tspan><tspan x="551" dy="13.7">月生产完成产品的分类统计及产值核算;对车</tspan><tspan x="551" dy="13.7">间设备、物品状况统计、损耗核算;登记车间</tspan><tspan x="551" dy="13.7">固定资产明细账及低值易耗品台账，并与相关</tspan><tspan x="551" dy="13.7">部门核对;按时编制车间成本预算和产品成本</tspan><tspan x="551" dy="13.7">计算单。</tspan></text></g>
<g id="p4b"><polygon class="b" points="773,1217 869,1217 875,1229.5 869,1242 773,1242 767,1229.5"/><text class="t" x="772" y="1233">二、10月工作内容：</text></g>
<g id="p4c"><polygon class="b" points="762,1362 869,1362 875,1374.5 869,1387 762,1387 756,1374.5"/><text class="t" x="761" y="1378">三、10月存在的问题：</text></g>
<g id="p4c1"><polygon class="b" points="519,1263 731,1263 737,1282 731,1301 519,1301 513,1282"/><text class="t" x="517" y="1279">1、各生产部门对基础数据(工时)收集较困难<tspan x="517" dy="13.7">。</tspan></text></g>
<g id="p4c2"><polygon class="b" points="519,1324 731,1324 737,1343 731,1362 519,1362 513,1343"/><text class="t" x="517" y="1340">2、各种台账建立和完善较缓慢，有些部门人<tspan x="517" dy="13.7">员不知道如何利用台账进行车间生产管理。</tspan></text></g>
<g id="p4c3"><polygon class="b" points="519,1385 731,1385 737,1404 731,1423 519,1423 513,1404"/><text class="t" x="517" y="1401">3、管理的持续改进进展很难，车间或部门对<tspan x="517" dy="13.7">企业管理和生产管理持观望态度。</tspan></text></g>
<g id="p4c4"><polygon class="b" points="519,1446 731,1446 737,1465 731,1484 519,1484 513,1465"/><text class="t" x="517" y="1462">4、工作过于枯燥无味，看不到进步和改善缓<tspan x="517" dy="13.7">慢。</tspan></text></g>
<g id="p4d"><polygon class="b" points="773,1797 869,1797 875,1809.5 869,1822 773,1822 767,1809.5"/><text class="t" x="772" y="1813">四、10月工作心得：</text></g>
<g id="p4d1"><polygon class="b" points="533,1770 738,1770 744,1809.5 738,1849 533,1849 527,1809.5"/><text class="t" x="530" y="1786">由于工作本身的关系，本月在表象上不见什么<tspan x="530" dy="13.7">进展和改进的方面，但在财务等部门和相关人</tspan><tspan x="530" dy="13.7">员的**下，我感到这一个月内主要在，完成</tspan><tspan x="530" dy="13.7">XX年年3月至20xx年5月的工序综合单元数的</tspan><tspan x="530" dy="13.7">核查有所收获：</tspan></text></g>
<g id="k1"><polygon class="b" points="288,1506 496,1506 502,1532 496,1558 288,1558 282,1532"/><text class="t" x="285" y="1522">1、气箱后封板焊接岗位每人每月完成155台3<tspan x="285" dy="13.7">70单元;在除去异常因素下每日可完成19单元</tspan><tspan x="285" dy="13.7">，每月可完成400单元;</tspan></text></g>
<g id="k2"><polygon class="b" points="288,1580 496,1580 502,1606 496,1632 288,1632 282,1606"/><text class="t" x="285" y="1596">2、气箱焊接岗位每人每月完成166台347单<tspan x="285" dy="13.7">元;在除去异常因素下每日可完成单元，每月</tspan><tspan x="285" dy="13.7">可完成单元;</tspan></text></g>
<g id="k3"><polygon class="b" points="288,1655 496,1655 502,1681 496,1707 288,1707 282,1681"/><text class="t" x="285" y="1671">3、双通安装岗位每人每月完成195台372单<tspan x="285" dy="13.7">元;在除去异常因素下每日可完成单元，每月</tspan><tspan x="285" dy="13.7">可完成28*1单元;</tspan></text></g>
<g id="k4"><polygon class="b" points="288,1729 496,1729 502,1755 496,1781 288,1781 282,1755"/><text class="t" x="285" y="1745">4、气箱装配岗位每人每月完成107台210单<tspan x="285" dy="13.7">元;在除去异常因素下每日可完成单元，每月</tspan><tspan x="285" dy="13.7">可完成单元;</tspan></text></g>
<g id="k5"><polygon class="b" points="288,1803 496,1803 502,1829 496,1855 288,1855 282,1829"/><text class="t" x="285" y="1819">5、检漏充气岗位每人每月完成107台386单<tspan x="285" dy="13.7">元;在除去异常因素下每日可完成单元，每月</tspan><tspan x="285" dy="13.7">可完成单元;</tspan></text></g>
<g id="k6"><polygon class="b" points="288,1878 496,1878 502,1904 496,1930 288,1930 282,1904"/><text class="t" x="285" y="1894">6、开关总装岗位每人每月完成78台191单元<tspan x="285" dy="13.7">在除去异常因素下每日可完成单元，每月可完</tspan><tspan x="285" dy="13.7">成单元;</tspan></text></g>
<g id="k1c"><polygon class="b" points="52,1520 255,1520 261,1532.5 255,1545 52,1545 46,1532.5"/><text class="t" x="50" y="1536">每日可完成开关8台，每月可完成开关174台</text></g>
<g id="k2c"><polygon class="b" points="65,1594 255,1594 261,1606.5 255,1619 65,1619 59,1606.5"/><text class="t" x="64" y="1610">每日可完成开关台，每月可完成开关台。</text></g>
<g id="k3c"><polygon class="b" points="65,1668 255,1668 261,1680.5 255,1693 65,1693 59,1680.5"/><text class="t" x="64" y="1684">每日可完成开关台，每月可完成开关台。</text></g>
<g id="k4c"><polygon class="b" points="65,1743 255,1743 261,1755.5 255,1768 65,1768 59,1755.5"/><text class="t" x="64" y="1759">每日可完成开关台，每月可完成开关台。</text></g>
<g id="k5c"><polygon class="b" points="65,1817 255,1817 261,1829.5 255,1842 65,1842 59,1829.5"/><text class="t" x="64" y="1833">每日可完成开关台，每月可完成开关台。</text></g>
<g id="k6c"><polygon class="b" points="65,1891 255,1891 261,1903.5 255,1916 65,1916 59,1903.5"/><text class="t" x="64" y="1907">每日可完成开关台，每月可完成开关台。</text></g>
<g id="k7"><polygon class="b" points="300,2073 496,2073 502,2085.5 496,2098 300,2098 294,2085.5"/><text class="t" x="299" y="2089">7、另外10月份电器高压工序综合单元数：</text></g>
<g id="k71"><polygon class="b" points="75,1952 268,1952 274,1964.5 268,1977 75,1977 69,1964.5"/><text class="t" x="74" y="1968">7-1气箱后封板每月可完成170台407单元;</text></g>
<g id="k72"><polygon class="b" points="85,1999 268,1999 274,2011.5 268,2024 85,2024 79,2011.5"/><text class="t" x="84" y="2015">7-2气箱焊接每月可完成263台551单元;</text></g>
<g id="k73"><polygon class="b" points="85,2046 268,2046 274,2058.5 268,2071 85,2071 79,2058.5"/><text class="t" x="84" y="2062">7-3双通安装每月可完成195台429单元;</text></g>
<g id="k74"><polygon class="b" points="85,2093 268,2093 274,2105.5 268,2118 85,2118 79,2105.5"/><text class="t" x="84" y="2109">7-4气箱装配每月可完成200台423单元;</text></g>
<g id="k75"><polygon class="b" points="85,2140 268,2140 274,2152.5 268,2165 85,2165 79,2152.5"/><text class="t" x="84" y="2156">7-5检漏充气每月可完成195台406单元;</text></g>
<g id="k76"><polygon class="b" points="58,2187 268,2187 274,2206 268,2225 58,2225 52,2206"/><text class="t" x="55" y="2203">7-6开关总装每月可完成台单元(本表可做基<tspan x="55" dy="13.7">础定额)</tspan></text></g>
<g id="p4e"><polygon class="b" points="806,2315 869,2315 875,2327.5 869,2340 806,2340 800,2327.5"/><text class="t" x="805" y="2331">五、本月建议</text></g>
<g id="p4e1"><polygon class="b" points="565,2249 774,2249 780,2268 774,2287 565,2287 559,2268"/><text class="t" x="562" y="2265">1、加强对各种基础工时的统计，完善数据分<tspan x="562" dy="13.7">析;</tspan></text></g>
<g id="p4e2"><polygon class="b" points="565,2309 774,2309 780,2328 774,2347 565,2347 559,2328"/><text class="t" x="562" y="2325">2、完善内部管理**，健全各种管理和工作流<tspan x="562" dy="13.7">程;</tspan></text></g>
<g id="p4e3"><polygon class="b" points="565,2370 774,2370 780,2389 774,2408 565,2408 559,2389"/><text class="t" x="562" y="2386">3、根据公司对部门的要求，完善工作**和工<tspan x="562" dy="13.7">作流程;</tspan></text></g>
<g id="p4f"><polygon class="b" points="786,2531 869,2531 875,2543.5 869,2556 786,2556 780,2543.5"/><text class="t" x="785" y="2547">六、下月工作计划</text></g>
<g id="p4f1"><polygon class="b" points="587,2431 752,2431 758,2443.5 752,2456 587,2456 581,2443.5"/><text class="t" x="586" y="2447">1、参加smc盘点及基础数据的核检;</text></g>
<g id="p4f2"><polygon class="b" points="568,2478 752,2478 758,2490.5 752,2503 568,2503 562,2490.5"/><text class="t" x="567" y="2494">2、加强对电器数控数据的收集和核对。</text></g>
<g id="p4f3"><polygon class="b" points="568,2525 752,2525 758,2537.5 752,2550 568,2550 562,2537.5"/><text class="t" x="567" y="2541">3、加强对低压组装数据的分析和核对。</text></g>
<g id="p4f4"><polygon class="b" points="544,2571 752,2571 758,2590 752,2609 544,2609 538,2590"/><text class="t" x="541" y="2587">4、根据根据公司对部门的要求，完善工作**<tspan x="541" dy="13.7">和工作流程;</tspan></text></g>
<g id="p4f5"><polygon class="b" points="601,2632 752,2632 758,2644.5 752,2657 601,2657 595,2644.5"/><text class="t" x="600" y="2648">5、完成公司交办的其他任务：。</text></g>

<g id="p6"><polygon class="b" points="663,2777 864,2777 870,2830.5 864,2884 663,2884 657,2830.5"/><text class="t" x="659" y="2793">XX月份的工作未见实际成效，让我十分沮丧<tspan x="659" dy="13.7">，在同事和王经理的帮忙下使我化悲痛为力量</tspan><tspan x="659" dy="13.7">，增强了自己的信心。认识到这个月业绩差的</tspan><tspan x="659" dy="13.7">原因，以及在下个月的工作中更加注意调整自</tspan><tspan x="659" dy="13.7">己的心态以及学习同业优秀置业顾问的销售技</tspan><tspan x="659" dy="13.7">巧。现就XX月份工作中的薄弱之处总结如下</tspan><tspan x="659" dy="13.7">：</tspan></text></g>
<g id="p61"><polygon class="b" points="418,2678 626,2678 632,2704 626,2730 418,2730 412,2704"/><text class="t" x="415" y="2694">1、没能很好的调整自己的销售心态，总是太<tspan x="415" dy="13.7">急功近利，急于求成，太注重个人以及公司的</tspan><tspan x="415" dy="13.7">销售业绩，销售心理战术方面做得不够好。</tspan></text></g>
<g id="p62"><polygon class="b" points="418,2753 626,2753 632,2779 626,2805 418,2805 412,2779"/><text class="t" x="415" y="2769">2、没能很好的抓住客户的购房心理以及吸引<tspan x="415" dy="13.7">客户的亮点，对客户没有针对性的讲解，导致</tspan><tspan x="415" dy="13.7">没能很好的了解客户的购房心理等等。</tspan></text></g>
<g id="p63"><polygon class="b" points="418,2827 626,2827 632,2853 626,2879 418,2879 412,2853"/><text class="t" x="415" y="2843">3、对楼盘讲解过多，没有进行系统条理的分<tspan x="415" dy="13.7">析客户的需求而导致客户听后当耳边风，甚至</tspan><tspan x="415" dy="13.7">很多资料客户不易记住。</tspan></text></g>
<g id="p64"><polygon class="b" points="418,2922 626,2922 632,2955 626,2988 418,2988 412,2955"/><text class="t" x="415" y="2938">4、对于专业知识以及楼盘的综合知识方面，<tspan x="415" dy="13.7">在领导的培训下基本已经很熟练的掌握，但在</tspan><tspan x="415" dy="13.7">销售技巧和技能方面不能很好的运用到实践中</tspan><tspan x="415" dy="13.7">。</tspan></text></g>
<g id="p641"><polygon class="b" points="176,2903 381,2903 387,2956.5 381,3010 176,3010 170,2956.5"/><text class="t" x="172" y="2919">以上各条是在我冷静的思考和同事们的分析下<tspan x="172" dy="13.7">得出的总结、在下个月的工作中必须时刻铭记</tspan><tspan x="172" dy="13.7">各条，应对每一位客户都持续良好的心态；在</tspan><tspan x="172" dy="13.7">铭记和纠正以上各条错误的同时多学习心理学</tspan><tspan x="172" dy="13.7">方面的知识，所谓知己知彼百战百胜。我相信</tspan><tspan x="172" dy="13.7">如果能决定出客户的购房需求再进行正对性的</tspan><tspan x="172" dy="13.7">楼盘解说后必须能有优异的成绩。</tspan></text></g>

<g id="watermarks" class="w" text-anchor="middle">
<text transform="translate(641,515) rotate(-30)">树图 shutu.cn</text>
<text transform="translate(1924,505) rotate(-30)">树图 shutu.cn</text>
<text transform="translate(630,1560) rotate(-30)">树图 shutu.cn</text>
<text transform="translate(1924,1550) rotate(-30)">树图 shutu.cn</text>
<text transform="translate(638,2560) rotate(-30)">树图 shutu.cn</text>
<text transform="translate(1920,2565) rotate(-30)">树图 shutu.cn</text>
<text transform="translate(641,3540) rotate(-30)">树图 shutu.cn</text>
<text transform="translate(1914,3525) rotate(-30)">树图 shutu.cn</text>
</g>
</g>
</svg>
